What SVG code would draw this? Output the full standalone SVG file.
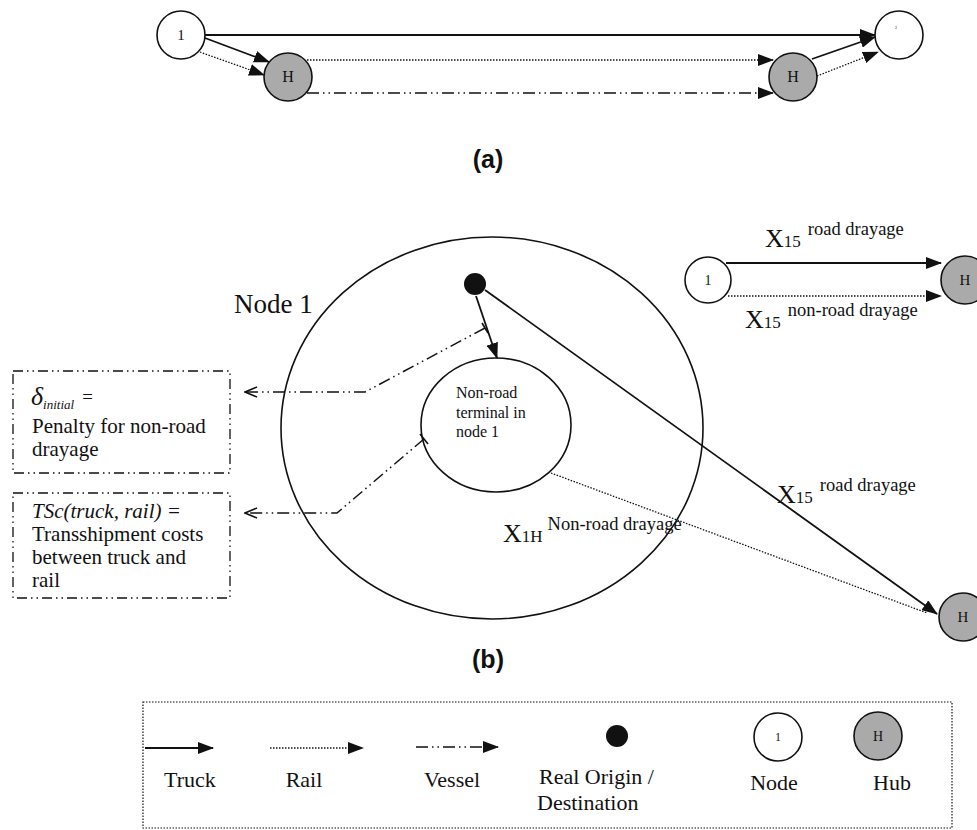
<svg xmlns="http://www.w3.org/2000/svg" width="977" height="830" viewBox="0 0 977 830">
<style>
.serif{font-family:"Liberation Serif","Times New Roman",serif;fill:#111}
.sans{font-family:"Liberation Sans",Arial,sans-serif;font-weight:bold;fill:#111}
.node{fill:#fff;stroke:#111;stroke-width:1.6}
.hub{fill:#aaa;stroke:#111;stroke-width:1.6}
.truck{stroke:#111;stroke-width:1.8;fill:none}
.rail{stroke:#111;stroke-width:1.3;stroke-dasharray:1.5 1.5;fill:none}
.vessel{stroke:#111;stroke-width:1.5;stroke-dasharray:12 4 1.5 4 1.5 4;fill:none}
.box{fill:none;stroke:#111;stroke-width:1.3;stroke-dasharray:10 4 1.5 4 1.5 4}
.plain{fill:none;stroke:#111;stroke-width:1.6}
</style>
<defs>
<marker id="tri" markerUnits="userSpaceOnUse" markerWidth="16" markerHeight="12" refX="15" refY="6" orient="auto">
<path d="M0,0 L16,6 L0,12 z" fill="#111"/>
</marker>
<marker id="open" markerUnits="userSpaceOnUse" markerWidth="14" markerHeight="12" refX="13" refY="6" orient="auto">
<path d="M1,1 L13,6 L1,11" fill="none" stroke="#111" stroke-width="1.6"/>
</marker>
</defs>
<rect width="977" height="830" fill="#fff"/>

<g id="connectors">
<!-- part a -->
<line class="truck" x1="205" y1="35" x2="875" y2="35" marker-end="url(#tri)"/>
<line class="truck" x1="205" y1="38" x2="269" y2="62" marker-end="url(#tri)"/>
<line class="rail" x1="200" y1="52" x2="264" y2="75" marker-end="url(#tri)"/>
<line class="rail" x1="307" y1="60" x2="773" y2="60" marker-end="url(#tri)"/>
<line class="vessel" x1="307" y1="93" x2="773" y2="93" marker-end="url(#tri)"/>
<line class="truck" x1="812" y1="59" x2="875" y2="37" marker-end="url(#tri)"/>
<line class="rail" x1="817" y1="76" x2="878" y2="52" marker-end="url(#tri)"/>
<!-- part b -->
<line class="truck" x1="476" y1="296" x2="497" y2="358" marker-end="url(#tri)"/>
<line class="truck" x1="485" y1="290" x2="937" y2="614" marker-end="url(#tri)"/>
<line class="rail" x1="551" y1="473" x2="927" y2="613"/>
<polyline class="vessel" points="485,328 365,392 245,392" marker-end="url(#open)"/>
<line class="plain" x1="482" y1="323" x2="488" y2="333" stroke-width="1.3"/>
<polyline class="vessel" points="424,439 337,513 245,513" marker-end="url(#open)"/>
<line class="plain" x1="420" y1="434" x2="428" y2="444" stroke-width="1.3"/>
<!-- mini -->
<line class="truck" x1="726" y1="263" x2="941" y2="263" marker-end="url(#tri)"/>
<line class="rail" x1="728" y1="296" x2="941" y2="296" marker-end="url(#tri)"/>
</g>

<g id="node1a"><circle class="node" cx="181" cy="35" r="24"/><text class="serif" x="181" y="40" font-size="15" text-anchor="middle">1</text></g>
<g id="hubLa"><circle class="hub" cx="288" cy="77" r="24"/><text class="serif" x="288" y="82" font-size="16" text-anchor="middle">H</text></g>
<g id="hubRa"><circle class="hub" cx="793" cy="77" r="24"/><text class="serif" x="793" y="82" font-size="16" text-anchor="middle">H</text></g>
<g id="node2a"><circle class="node" cx="899" cy="35" r="24"/><text class="serif" x="896" y="29" font-size="4" text-anchor="middle">2</text></g>
<text class="sans" x="488" y="168" font-size="25" text-anchor="middle">(a)</text>

<g id="bigNode">
<ellipse class="plain" cx="492" cy="428" rx="211" ry="191"/>
<text class="serif" x="234" y="313" font-size="27">Node 1</text>
</g>
<g id="origin"><circle cx="475" cy="284" r="11" fill="#111"/></g>
<g id="terminal">
<ellipse class="plain" cx="496" cy="425" rx="75" ry="67"/>
<text class="serif" font-size="16"><tspan x="456" y="398">Non-road</tspan><tspan x="456" y="418">terminal in</tspan><tspan x="456" y="437">node 1</tspan></text>
</g>
<g id="hubB"><circle class="hub" cx="963" cy="617" r="24"/><text class="serif" x="963" y="622" font-size="15" text-anchor="middle">H</text></g>
<text class="serif" x="777" y="503" font-size="26">X<tspan font-size="17">15</tspan><tspan font-size="18.5" dx="7" dy="-12">road drayage</tspan></text>
<text class="serif" x="503" y="542" font-size="26">X<tspan font-size="17">1H</tspan><tspan font-size="18.5" dx="5" dy="-12">Non-road drayage</tspan></text>

<g id="box1">
<rect class="box" x="13" y="371" width="217" height="102"/>
<text class="serif" x="31" y="405" font-size="26" font-style="italic">δ<tspan font-size="13" dy="4">initial</tspan><tspan font-size="19" dx="8" dy="-6" font-style="normal">=</tspan></text>
<text class="serif" font-size="21"><tspan x="32" y="433">Penalty for non-road</tspan><tspan x="32" y="456">drayage</tspan></text>
</g>
<g id="box2">
<rect class="box" x="13" y="493" width="217" height="105"/>
<text class="serif" font-size="21"><tspan x="32" y="518" font-style="italic">TSc(truck, rail) =</tspan><tspan x="32" y="541">Transshipment costs</tspan><tspan x="32" y="564">between truck and</tspan><tspan x="32" y="587">rail</tspan></text>
</g>

<g id="miniNode"><circle class="node" cx="708" cy="280" r="23"/><text class="serif" x="708" y="285" font-size="14" text-anchor="middle">1</text></g>
<g id="miniHub"><circle class="hub" cx="965" cy="280" r="24"/><text class="serif" x="965" y="285" font-size="15" text-anchor="middle">H</text></g>
<text class="serif" x="765" y="247" font-size="26">X<tspan font-size="17">15</tspan><tspan font-size="18.5" dx="7" dy="-12">road drayage</tspan></text>
<text class="serif" x="745" y="328" font-size="26">X<tspan font-size="17">15</tspan><tspan font-size="18.5" dx="7" dy="-12">non-road drayage</tspan></text>

<text class="sans" x="488" y="668" font-size="25" text-anchor="middle">(b)</text>

<g id="legend">
<rect x="143" y="702" width="809" height="126" fill="none" stroke="#111" stroke-width="1.2" stroke-dasharray="1.5 1.5"/>
<line class="truck" x1="145" y1="748" x2="213" y2="748" marker-end="url(#tri)"/>
<text class="serif" x="190" y="787" font-size="22" text-anchor="middle">Truck</text>
<line class="rail" x1="270" y1="748" x2="363" y2="748" marker-end="url(#tri)"/>
<text class="serif" x="304" y="787" font-size="22" text-anchor="middle">Rail</text>
<line class="vessel" x1="416" y1="747" x2="498" y2="747" marker-end="url(#tri)" stroke-dasharray="12 5 1.5 5 1.5 5"/>
<text class="serif" x="452" y="787" font-size="22" text-anchor="middle">Vessel</text>
<circle cx="617" cy="736" r="11" fill="#111"/>
<text class="serif" font-size="22"><tspan x="539" y="784">Real Origin /</tspan><tspan x="537" y="810">Destination</tspan></text>
<circle class="node" cx="778" cy="737" r="24"/>
<text class="serif" x="778" y="741" font-size="12" text-anchor="middle">1</text>
<text class="serif" x="774" y="790" font-size="22" text-anchor="middle">Node</text>
<circle class="hub" cx="878" cy="736" r="24"/>
<text class="serif" x="878" y="741" font-size="14" text-anchor="middle">H</text>
<text class="serif" x="892" y="790" font-size="22" text-anchor="middle">Hub</text>
</g>
</svg>
